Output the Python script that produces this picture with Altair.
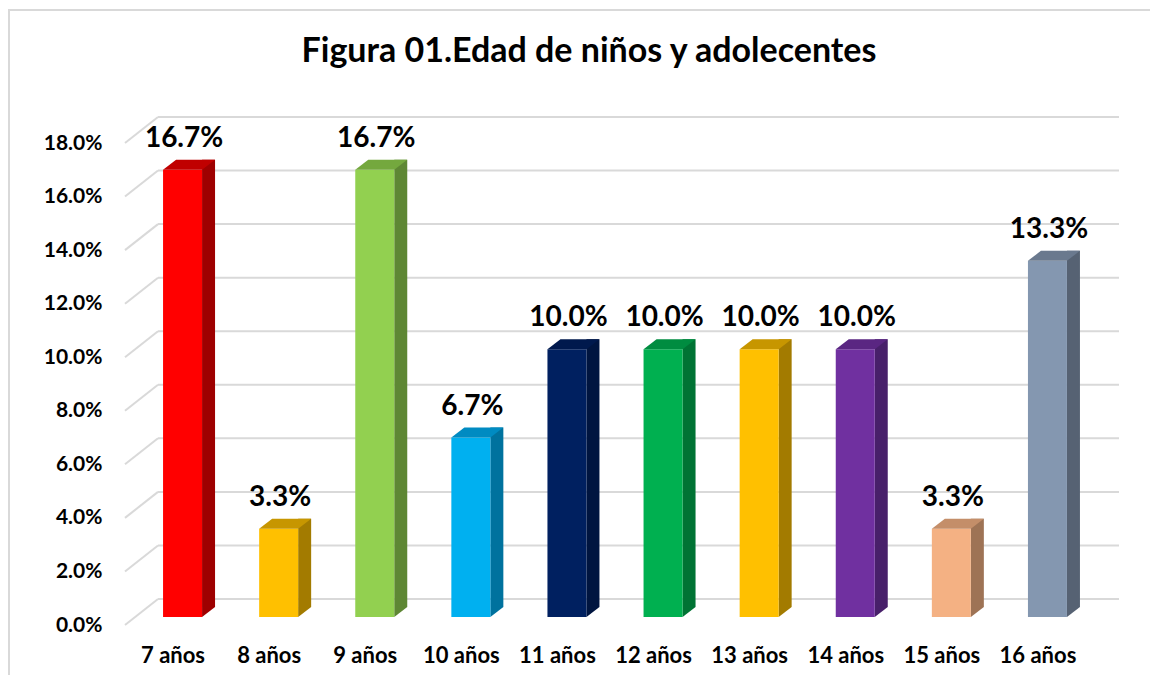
import altair as alt
import pandas as pd

categories = ["7 años", "8 años", "9 años", "10 años", "11 años",
              "12 años", "13 años", "14 años", "15 años", "16 años"]
values = [16.7, 3.3, 16.7, 6.7, 10.0, 10.0, 10.0, 10.0, 3.3, 13.3]
front_colors = ["#FF0000", "#FFC000", "#92D050", "#00B0F0", "#002060",
                "#00B050", "#FFC000", "#7030A0", "#F4B183", "#8497B0"]
top_colors = ["#C00000", "#C79600", "#74A83E", "#008BC2", "#00194D",
              "#008C40", "#C79600", "#5A2682", "#C48E69", "#6A798E"]
side_colors = ["#9E0000", "#A37B00", "#5E8734", "#00729E", "#001540",
               "#007334", "#A37B00", "#48206A", "#9E7355", "#566273"]
y_ticks = [0, 2, 4, 6, 8, 10, 12, 14, 16, 18]
title_text = "Figura 01.Edad de niños y adolecentes"

df = pd.DataFrame({"cat": categories, "v": values, "front": front_colors,
                   "top": top_colors, "side": side_colors})
grid_df = pd.DataFrame({"v": y_ticks})
one = pd.DataFrame({"a": [0]})

FONT = "Lato"
GRID = "#D9D9D9"

yscale = alt.Scale(domain=[0, 18], nice=False, zero=True)
xscale = alt.Scale(paddingInner=0, paddingOuter=0)

y_axis = alt.Axis(title=None, domain=False, ticks=False, grid=False,
                  values=y_ticks, labelExpr="format(datum.value, '.1f') + '%'",
                  labelFont=FONT, labelFontWeight="bold", labelFontSize=21,
                  labelColor="#000000", labelPadding=23)

x_enc = alt.X("cat:N", sort=categories, scale=xscale,
              axis=alt.Axis(title=None, domain=False, ticks=False, labelAngle=0,
                            labelFont=FONT, labelFontWeight="bold", labelFontSize=22,
                            labelColor="#000000", labelBaseline="middle",
                            labelPadding=30))
y_enc = alt.Y("v:Q", scale=yscale, axis=y_axis)

border = alt.Chart(one).mark_rect(fillOpacity=0, stroke=GRID, strokeWidth=2).encode(
    x=alt.value(-116), x2=alt.value(1200), y=alt.value(-133), y2=alt.value(700))

grid_front = alt.Chart(grid_df).mark_rule(color=GRID, strokeWidth=2, y2Offset=-26).encode(
    y=y_enc, y2="v:Q",
    x=alt.value(0), x2=alt.value(33))
grid_back = alt.Chart(grid_df).mark_rule(color=GRID, strokeWidth=2, yOffset=-26).encode(
    y=y_enc,
    x=alt.value(33), x2=alt.value(994))

side_rect = alt.Chart(df).mark_bar(size=13, xOffset=35.5, yOffset=-18, y2Offset=-18).encode(
    x=x_enc, y=y_enc, y2=alt.datum(0), color=alt.Color("side:N", scale=None))

tri_path = "M0.4875,-0.25 L0.8125,-0.25 L0.4875,0 Z"
side_bottom = alt.Chart(df).mark_point(shape=tri_path, size=6400, filled=True, opacity=1,
                                       strokeWidth=0, xOffset=9.5, yOffset=-8).encode(
    x=x_enc, y=alt.datum(0), color=alt.Color("side:N", scale=None))

front = alt.Chart(df).mark_bar(size=39, xOffset=9.5, yOffset=-8, y2Offset=-8).encode(
    x=x_enc, y=y_enc, y2=alt.datum(0), color=alt.Color("front:N", scale=None))

top_path = "M-0.4875,0 L0.4875,0 L0.8125,-0.25 L-0.1625,-0.25 Z"
top_face = alt.Chart(df).mark_point(shape=top_path, size=6400, filled=True, opacity=1,
                                    strokeWidth=0, xOffset=9.5, yOffset=-8).encode(
    x=x_enc, y=y_enc, color=alt.Color("top:N", scale=None))

labels = alt.Chart(df).transform_calculate(
    lab="format(datum.v, '.1f') + '%'"
).mark_text(font=FONT, fontWeight="bold", fontSize=28, color="#000000",
            baseline="middle", align="center", xOffset=11, yOffset=-8, dy=-31).encode(
    x=x_enc, y=y_enc, text="lab:N")

title = alt.Chart(one).mark_text(font=FONT, fontWeight="bold", fontSize=34, color="#000000",
                                 align="center", baseline="middle").encode(
    x=alt.value(464), y=alt.value(-91), text=alt.value(title_text))

chart = alt.layer(border, grid_front, grid_back, side_rect, side_bottom, front, top_face,
                  labels, title).properties(
    width=961, height=482,
    autosize=alt.AutoSizeParams(type="none"),
    padding={"left": 117, "top": 135, "right": 64, "bottom": 50},
    background="#FFFFFF",
).configure_view(stroke=None)

chart.save("out.html", embed_options={"renderer": "svg", "actions": False})
